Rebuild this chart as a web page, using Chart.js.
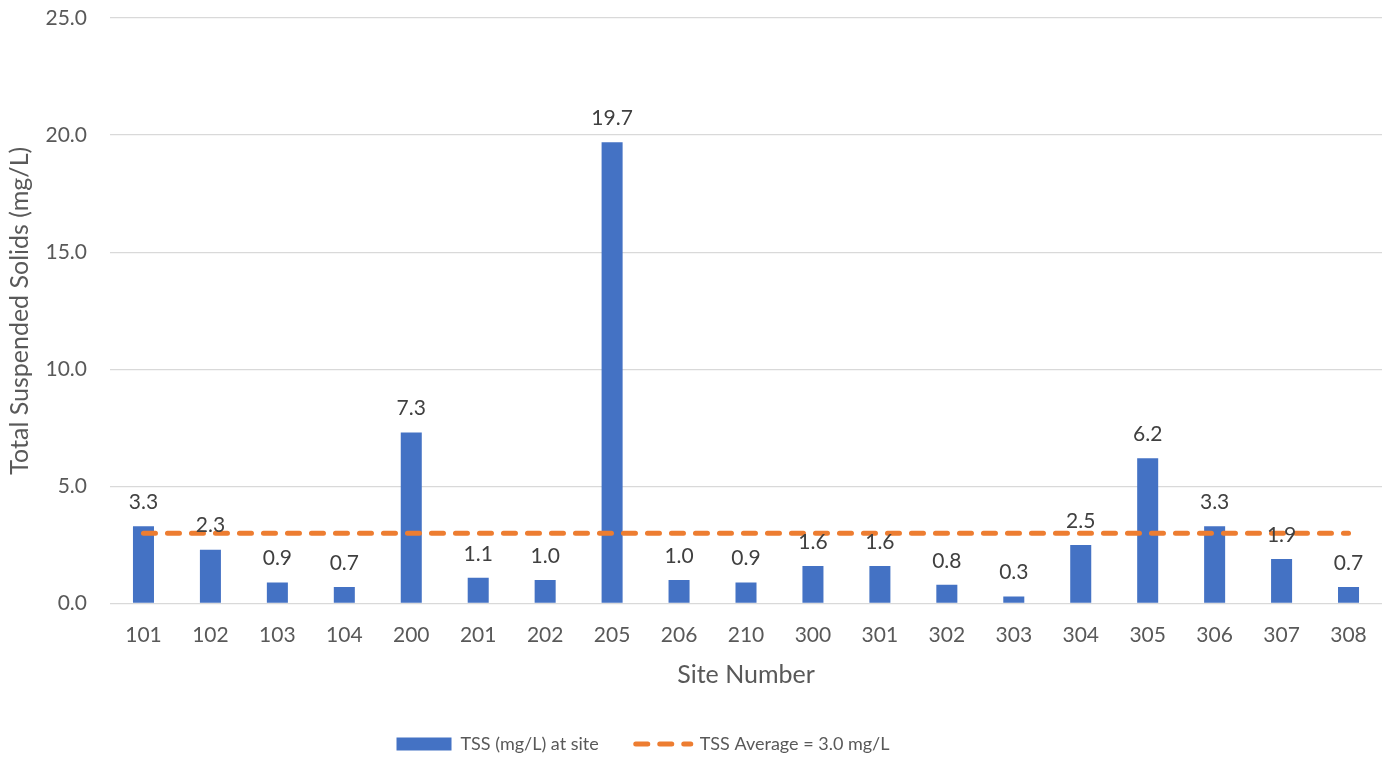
<!DOCTYPE html>
<html>
<head>
<meta charset="utf-8">
<script src="https://cdn.jsdelivr.net/npm/chart.js@4/dist/chart.umd.min.js"></script>
<style>
  html, body { margin: 0; padding: 0; background: #ffffff; }
  #wrap { width: 1391px; height: 757px; }
</style>
</head>
<body>
<div id="wrap"><canvas id="c" width="1391" height="757"></canvas></div>
<script>
const siteNumbers = ['101','102','103','104','200','201','202','205','206','210','300','301','302','303','304','305','306','307','308'];
const tssValues = [3.3, 2.3, 0.9, 0.7, 7.3, 1.1, 1.0, 19.7, 1.0, 0.9, 1.6, 1.6, 0.8, 0.3, 2.5, 6.2, 3.3, 1.9, 0.7];
const averageValues = [3.0, 3.0, 3.0, 3.0, 3.0, 3.0, 3.0, 3.0, 3.0, 3.0, 3.0, 3.0, 3.0, 3.0, 3.0, 3.0, 3.0, 3.0, 3.0];
const yTicks = [0, 5, 10, 15, 20, 25];
const barLabel = 'TSS (mg/L) at site';
const lineLabel = 'TSS Average = 3.0 mg/L';
const xTitle = 'Site Number';
const yTitle = 'Total Suspended Solids (mg/L)';

const BLUE = '#4472C4';
const ORANGE = '#ED7D31';
const TEXT = '#595959';
const FONT = 'Lato, "Open Sans", sans-serif';

const dataLabels = {
  id: 'dataLabels',
  afterDatasetsDraw(chart) {
    const meta = chart.getDatasetMeta(1);
    const ctx = chart.ctx;
    ctx.save();
    ctx.font = '21px ' + FONT;
    ctx.fillStyle = '#404040';
    ctx.textAlign = 'center';
    ctx.textBaseline = 'middle';
    meta.data.forEach((bar, i) => {
      ctx.fillText(tssValues[i].toFixed(1), bar.x, bar.y - 24);
    });
    ctx.restore();
  }
};

const legendTweak = {
  id: 'legendTweak',
  afterInit(chart) {
    const lg = chart.legend;
    if (!lg) return;
    const origFit = lg.fit.bind(lg);
    lg.fit = function () { origFit(); this.height = 59; };
  },
  afterLayout(chart) {
    if (chart.legend) { chart.legend.left -= 48; chart.legend.right -= 48; }
  }
};

new Chart(document.getElementById('c'), {
  type: 'bar',
  data: {
    labels: siteNumbers,
    datasets: [
      {
        type: 'line',
        label: lineLabel,
        data: averageValues,
        borderColor: ORANGE,
        backgroundColor: ORANGE,
        borderWidth: 5,
        borderDash: [12, 12],
        borderCapStyle: 'round',
        pointRadius: 0,
        fill: false,
        order: 0
      },
      {
        type: 'bar',
        label: barLabel,
        data: tssValues,
        backgroundColor: BLUE,
        borderWidth: 0,
        barPercentage: 0.314,
        categoryPercentage: 1.0,
        order: 1
      }
    ]
  },
  options: {
    responsive: false,
    animation: false,
    layout: { padding: { top: 18, right: 9, left: 0, bottom: 0 } },
    plugins: {
      tooltip: { enabled: false },
      legend: {
        position: 'bottom',
        labels: {
          usePointStyle: true,
          pointStyleWidth: 55,
          boxHeight: 13,
          padding: 37,
          color: TEXT,
          font: { family: FONT, size: 18 },
          generateLabels: () => [
            { text: barLabel, fillStyle: BLUE, strokeStyle: BLUE, lineWidth: 0, pointStyle: 'rect', datasetIndex: 1, hidden: false, fontColor: TEXT },
            { text: lineLabel, fillStyle: 'rgba(0,0,0,0)', strokeStyle: ORANGE, lineWidth: 5, lineDash: [12, 12], lineCap: 'round', pointStyle: 'line', datasetIndex: 0, hidden: false, fontColor: TEXT }
          ]
        }
      }
    },
    scales: {
      x: {
        offset: true,
        grid: { display: false },
        border: { display: false },
        ticks: { color: TEXT, font: { family: FONT, size: 21 }, padding: 11.5, maxRotation: 0, autoSkip: false },
        title: { display: true, text: xTitle, color: TEXT, font: { family: FONT, size: 25 }, padding: { top: 0, bottom: 8 } },
        afterFit(scale) { scale.height = 94.5; }
      },
      y: {
        min: 0,
        max: 25,
        grid: { color: '#d9d9d9', lineWidth: 1.3, drawTicks: true, tickLength: 23, tickColor: 'rgba(0,0,0,0)' },
        border: { display: false },
        afterBuildTicks(scale) { scale.ticks = yTicks.map(v => ({ value: v })); },
        ticks: { color: TEXT, font: { family: FONT, size: 21 }, padding: 0, callback: v => Number(v).toFixed(1) },
        title: { display: true, text: yTitle, color: TEXT, font: { family: FONT, size: 25 }, padding: { top: 5, bottom: 0 } },
        afterFit(scale) { scale.width = 110; }
      }
    }
  },
  plugins: [dataLabels, legendTweak]
});
</script>
</body>
</html>
